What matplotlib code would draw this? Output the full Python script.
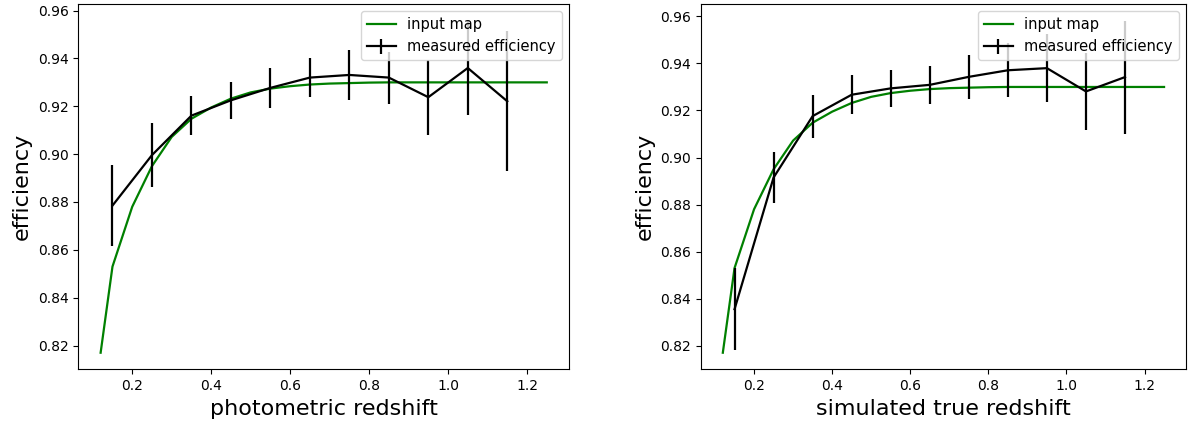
import matplotlib
matplotlib.use("Agg")
import matplotlib.pyplot as plt

# input map (same for both panels)
map_z = [0.12, 0.15, 0.20, 0.25, 0.30, 0.35, 0.40, 0.45, 0.50, 0.55, 0.60, 0.65,
         0.70, 0.75, 0.80, 0.85, 0.90, 0.95, 1.00, 1.05, 1.10, 1.15, 1.20, 1.25]
map_eff = [0.817, 0.853, 0.878, 0.8950, 0.9072, 0.9148, 0.9195, 0.9232, 0.9258,
           0.9274, 0.9284, 0.9291, 0.9295, 0.9297, 0.9299, 0.9300, 0.9300, 0.9300,
           0.9300, 0.9300, 0.9300, 0.9300, 0.9300, 0.9300]

bin_z = [0.15, 0.25, 0.35, 0.45, 0.55, 0.65, 0.75, 0.85, 0.95, 1.05, 1.15]

# photometric redshift panel
phot_eff = [0.8785, 0.8996, 0.9161, 0.9225, 0.9277, 0.9320, 0.9331, 0.9320, 0.9238, 0.9360, 0.9221]
phot_err = [0.0169, 0.0134, 0.0082, 0.0077, 0.0085, 0.0081, 0.0105, 0.0109, 0.0157, 0.0198, 0.0293]

# simulated true redshift panel
true_eff = [0.8355, 0.8915, 0.9176, 0.9267, 0.9294, 0.9309, 0.9343, 0.9371, 0.9380, 0.9281, 0.9342]
true_err = [0.0174, 0.0110, 0.0091, 0.0084, 0.0078, 0.0081, 0.0095, 0.0114, 0.0144, 0.0163, 0.0240]

xlabels = ["photometric redshift", "simulated true redshift"]

fig = plt.figure(figsize=(11.94, 4.25), dpi=100)
ax1 = fig.add_axes([0.0656, 0.131, 0.411, 0.8595])
ax2 = fig.add_axes([0.5869, 0.131, 0.4065, 0.8595])

for ax, eff, err, xl in [(ax1, phot_eff, phot_err, xlabels[0]),
                         (ax2, true_eff, true_err, xlabels[1])]:
    ax.plot(map_z, map_eff, color="green", lw=1.6, label="input map")
    ax.errorbar(bin_z, eff, yerr=err, color="black", lw=1.6, label="measured efficiency")
    ax.set_xlabel(xl, fontsize=16)
    ax.set_ylabel("efficiency", fontsize=16)
    ax.tick_params(labelsize=10)
    ax.set_xticks([0.2, 0.4, 0.6, 0.8, 1.0, 1.2])
    ax.set_yticks([0.82, 0.84, 0.86, 0.88, 0.90, 0.92, 0.94, 0.96])
    ax.legend(loc="upper right", fontsize=10.5, borderaxespad=0.5)

fig.savefig("out.png", dpi=100)
